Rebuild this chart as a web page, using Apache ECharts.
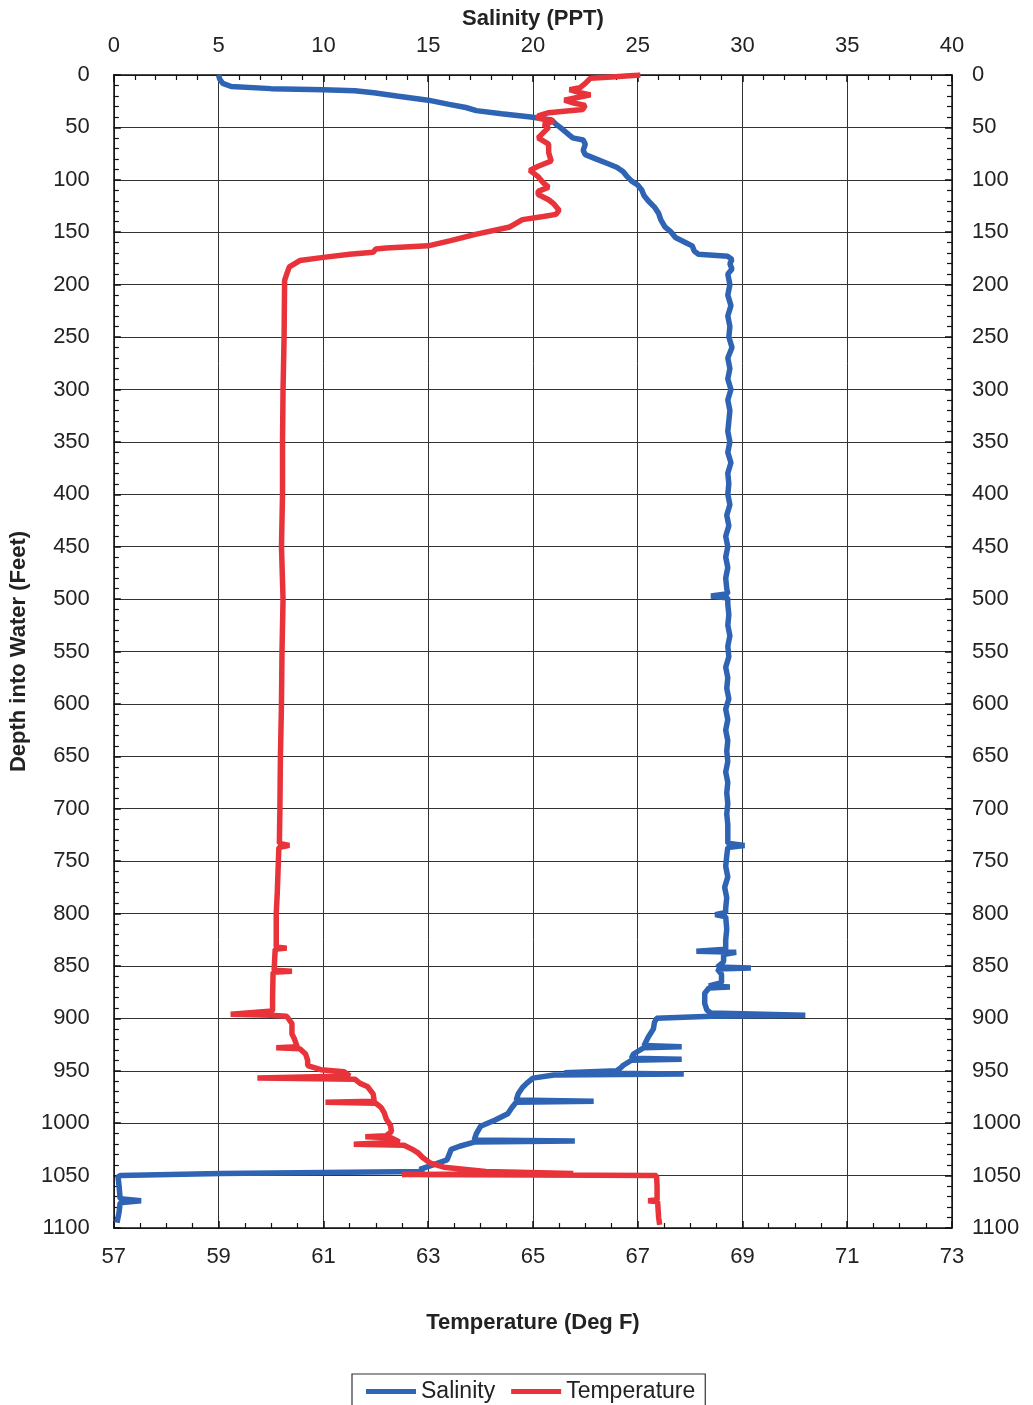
<!DOCTYPE html>
<html>
<head>
<meta charset="utf-8">
<script src="https://cdn.jsdelivr.net/npm/echarts@6/dist/echarts.min.js"></script>
<style>
html,body{margin:0;padding:0;background:#fff;}
#chart{width:1033px;height:1405px;}
</style>
</head>
<body>
<div id="chart"></div>
<script>
// Depth axis ticks and labels
var depthTicks = [0,50,100,150,200,250,300,350,400,450,500,550,600,650,700,750,800,850,900,950,1000,1050,1100];
var salinityTicks = [0,5,10,15,20,25,30,35,40];
var temperatureTicks = [57,59,61,63,65,67,69,71,73];

// Salinity (PPT) profile
var salDepth = [0,4,8,11,13,14,15,17,20,24,28,31,34,37,40,43,47,50,55,60,62,66,72,76,80,84,88,92,97,101,105,110,115,120,126,132,138,145,150,155,160,163,168,171,173,176,180,
185,190,200,210,220,230,240,250,260,270,280,290,300,310,320,330,340,350,360,370,380,390,400,410,420,430,440,450,460,470,480,490,495,497,499,505,515,525,535,545,555,565,575,585,595,605,615,625,635,645,655,665,675,685,695,705,715,725,733,735,737,745,755,765,775,785,795,799,801,803,815,825,834,836,837,839,846,851,852,853,858,866,869,870,871,876,886,892,895,897,898,
900,904,910,918,922,926,927,928,934,938,939,940,945,947,950,952,953,954,957,962,966,972,978,979,980,985,991,997,1003,1010,1016,1017,1018,1022,1025,1030,1035,1040,1044,1046,1047,1048,1050,1051,1060,1072,1074,1076,1085,1095];
var salValue = [5.0,5.05,5.2,5.6,7.5,10.0,11.5,12.4,13.5,15.0,16.0,16.8,17.3,18.5,19.9,20.9,21.1,21.3,21.6,21.9,22.4,22.5,22.4,22.5,23.0,23.5,24.0,24.3,24.5,24.7,25.0,25.2,25.3,25.5,25.8,26.0,26.1,26.3,26.6,26.8,27.3,27.6,27.7,27.9,29.3,29.5,29.4,
29.5,29.3,29.4,29.3,29.45,29.3,29.4,29.35,29.5,29.3,29.4,29.3,29.45,29.3,29.4,29.35,29.3,29.4,29.3,29.45,29.3,29.35,29.3,29.4,29.25,29.35,29.2,29.3,29.2,29.3,29.2,29.25,29.3,28.5,29.3,29.3,29.35,29.3,29.4,29.3,29.35,29.2,29.3,29.25,29.35,29.2,29.3,29.2,29.3,29.25,29.3,29.2,29.3,29.25,29.3,29.25,29.3,29.3,29.3,30.1,29.3,29.25,29.2,29.3,29.15,29.25,29.2,29.2,28.7,29.2,29.25,29.2,29.2,27.8,29.7,29.1,29.1,28.8,30.4,28.8,29.0,29.0,28.4,29.4,28.4,28.2,28.2,28.3,28.5,33.0,28.5,
25.9,25.8,25.75,25.5,25.4,25.3,27.1,25.3,24.8,24.7,27.1,24.7,24.3,24.2,24.0,21.5,27.2,21.0,20.0,19.7,19.5,19.3,19.2,22.9,19.2,19.0,18.8,18.2,17.5,17.3,17.2,22.0,17.2,16.5,16.1,16.0,15.9,15.2,14.6,14.8,10.0,5.1,0.3,0.2,0.25,0.3,1.3,0.3,0.25,0.15];

// Temperature (Deg F) profile
var tempDepth = [0,2,3,8,12,14,17,19,22,24,27,29,33,36,39,41,44,47,50,55,60,66,74,82,87,91,97,103,107,111,114,119,123,129,133,135,138,145,152,158,163,165,166,169,171,174,177,183,190,196,
250,300,350,400,450,500,550,600,650,700,733,735,737,780,800,832,833,834,854,855,856,880,893,896,897,898,905,915,920,927,928,929,934,940,945,949,951,955,957,958,962,965,972,979,980,981,985,990,996,1002,1008,1012,1013,1014,1018,1020,1021,1025,1028,1033,1038,1042,1046,1048,1049,1050,1060,1073,1074,1075,1090,1097];
var tempValue = [67.05,66.5,66.1,66.0,65.9,65.7,65.9,66.1,65.8,65.6,65.8,66.0,65.95,65.3,65.1,65.1,65.4,65.2,65.3,65.2,65.1,65.3,65.3,65.35,65.1,64.94,65.1,65.2,65.3,65.1,65.1,65.3,65.4,65.5,65.44,65.2,64.8,64.56,63.9,63.43,63.0,62.2,62.0,61.95,61.5,61.0,60.55,60.35,60.3,60.26,
60.25,60.23,60.22,60.22,60.2,60.23,60.21,60.2,60.18,60.17,60.16,60.35,60.15,60.12,60.1,60.1,60.3,60.08,60.06,60.4,60.04,60.03,60.03,59.23,60.0,60.3,60.4,60.4,60.45,60.5,60.1,60.55,60.66,60.7,60.7,60.95,61.4,61.5,59.74,61.6,61.7,61.84,61.95,61.97,61.04,62.0,62.1,62.16,62.2,62.28,62.3,62.2,61.8,62.3,62.45,61.58,62.54,62.7,62.8,62.9,63.04,63.3,64.1,65.77,62.5,67.36,67.37,67.37,67.2,67.38,67.4,67.42];

var salData = salDepth.map(function(d,i){return [salValue[i], d];});
var tempData = tempDepth.map(function(d,i){return [tempValue[i], d];});

var FONT = '"Liberation Sans", Arial, sans-serif';
var TXT = '#222';
var chart = echarts.init(document.getElementById('chart'), null, {renderer:'canvas'});

function xAxisBase(pos, min, max, interval, minorSplit, name, nameGap, showSplit){
  return {
    type:'value', position:pos, min:min, max:max, interval:interval,
    name:name, nameLocation:'middle', nameGap:nameGap,
    nameTextStyle:{fontFamily:FONT,fontSize:22,fontWeight:'bold',color:TXT},
    axisLine:{show:true,onZero:false,lineStyle:{color:'#111',width:1.5}},
    axisTick:{show:true,inside:true,length:7,lineStyle:{color:'#111',width:1.5}},
    minorTick:{show:true,splitNumber:minorSplit,length:5,lineStyle:{color:'#111',width:1.2}},
    axisLabel:{fontFamily:FONT,fontSize:22,color:TXT,margin:18},
    splitLine:{show:showSplit,lineStyle:{color:'#333',width:1}}
  };
}
function yAxisBase(pos, showSplit, showName){
  return {
    type:'value', position:pos, inverse:true, min:0, max:1100, interval:50,
    name: showName ? 'Depth into Water (Feet)' : '',
    nameLocation:'middle', nameGap:71, nameRotate:90,
    nameTextStyle:{fontFamily:FONT,fontSize:22,fontWeight:'bold',color:TXT},
    axisLine:{show:true,onZero:false,lineStyle:{color:'#111',width:1.5}},
    axisTick:{show:true,inside:true,length:7,lineStyle:{color:'#111',width:1.5}},
    minorTick:{show:true,splitNumber:5,length:5,lineStyle:{color:'#111',width:1.2}},
    axisLabel:{fontFamily:FONT,fontSize:22,color:TXT,margin:pos==='left'?24:20,
      formatter:function(v){return depthTicks.indexOf(v)>=0?String(v):'';}},
    splitLine:{show:showSplit,lineStyle:{color:'#333',width:1}}
  };
}

var xTop = xAxisBase('top',0,40,5,5,'Salinity (PPT)',45,true);
xTop.axisLabel.formatter = function(v){return salinityTicks.indexOf(v)>=0?String(v):'';};
var xBot = xAxisBase('bottom',57,73,2,4,'Temperature (Deg F)',84,false);
xBot.axisLabel.formatter = function(v){return temperatureTicks.indexOf(v)>=0?String(v):'';};

chart.setOption({
  animation:false,
  backgroundColor:'#fff',
  grid:{left:108,right:81,top:75,bottom:177,containLabel:false},
  legend:{
    left:352, top:1374, orient:'horizontal',
    data:['Salinity','Temperature'],
    icon:'rect', itemWidth:50, itemHeight:5, itemGap:16,
    padding:[6,10,12,14],
    borderColor:'#333', borderWidth:1.2,
    textStyle:{fontFamily:FONT,fontSize:23,color:TXT}
  },
  xAxis:[xTop,xBot],
  yAxis:[yAxisBase('left',true,true), yAxisBase('right',false,false)],
  series:[
    {name:'Salinity',type:'line',xAxisIndex:0,yAxisIndex:0,data:salData,
     showSymbol:false,symbol:'none',lineStyle:{color:'#2f64b4',width:5.5},itemStyle:{color:'#2f64b4'},
     z:3,clip:true},
    {name:'Temperature',type:'line',xAxisIndex:1,yAxisIndex:0,data:tempData,
     showSymbol:false,symbol:'none',lineStyle:{color:'#e8333b',width:5.5},itemStyle:{color:'#e8333b'},
     z:4,clip:true}
  ]
});
</script>
</body>
</html>
